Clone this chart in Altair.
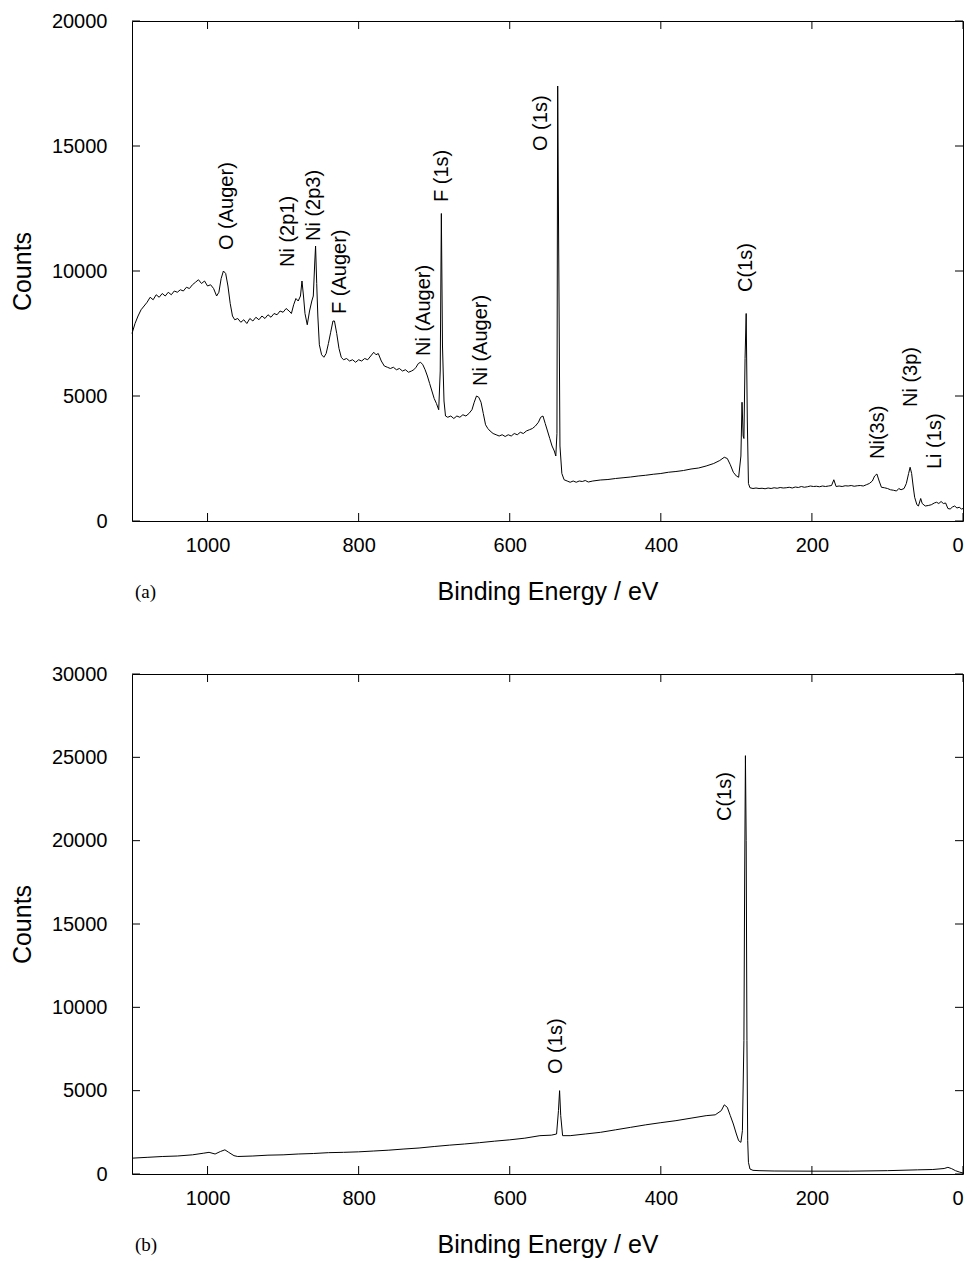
import altair as alt
import pandas as pd

# ---------------- Panel (a) spectrum ----------------
energy_a = [1100, 1096, 1092, 1088, 1084, 1080, 1076, 1072, 1068, 1064, 1060, 1056, 1052, 1048, 1044,
            1040, 1036, 1032, 1028, 1024, 1020, 1016, 1012, 1008, 1004, 1000, 996, 992, 988, 985,
            982, 979, 976, 973, 970, 967, 964, 960, 956, 952, 948, 944, 940, 936, 932, 928, 924,
            920, 916, 912, 908, 904, 900, 896, 892, 889, 886, 883, 880, 877, 875, 873, 871, 868,
            865, 862, 860, 858, 857, 855.5, 854, 852, 849, 846, 843, 840, 837, 834, 832, 829, 826,
            823, 820, 816, 812, 808, 804, 800, 796, 792, 788, 784, 780, 777, 774, 770, 766, 762,
            758, 754, 750, 746, 742, 738, 734, 730, 727, 724, 721, 718, 715, 712, 709, 706, 703,
            700, 697, 694, 692, 690.5, 689, 687, 685, 682, 678, 674, 670, 666, 662, 658, 654, 650,
            647, 644, 641, 638, 635, 632, 629, 626, 622, 618, 614, 610, 606, 602, 598, 594, 590,
            586, 582, 578, 574, 570, 566, 562, 559, 556, 553, 550, 547, 544, 541, 539, 537.5,
            536.5, 535, 533.5, 531, 528, 524, 520, 516, 512, 508, 504, 500, 496, 490, 480, 470,
            460, 450, 440, 430, 420, 410, 400, 390, 380, 370, 360, 350, 340, 330, 322, 316, 312,
            308, 304, 300, 297, 294, 292.5, 291, 290, 288.5, 287, 285.5, 284, 282, 278, 274, 270,
            266, 262, 258, 254, 250, 246, 242, 238, 234, 230, 226, 222, 218, 214, 210, 206, 202,
            198, 194, 190, 186, 182, 178, 174, 171, 168, 164, 160, 156, 152, 148, 144, 140, 136,
            132, 128, 124, 120, 117, 114, 111, 108, 104, 100, 96, 92, 88, 85, 82, 78, 75, 72, 70,
            68, 66, 64, 61, 59, 56, 54, 50, 46, 42, 38, 35, 32, 29, 26, 23, 20, 17, 14, 11, 8, 5,
            2, 0]
counts_a = [7500, 7900, 8200, 8450, 8600, 8750, 8950, 8850, 9050, 8950, 9100, 9000, 9150, 9050, 9200,
            9150, 9250, 9200, 9350, 9300, 9450, 9550, 9650, 9500, 9600, 9400, 9450, 9300, 9000, 9150,
            9700, 10000, 9900, 9400, 8700, 8200, 8050, 8100, 7950, 8050, 7900, 8100, 8000, 8150, 8050,
            8200, 8100, 8250, 8150, 8300, 8250, 8400, 8350, 8500, 8400, 8300, 8650, 8900, 8800, 9000,
            9600, 9000, 8300, 7850, 8400, 8800, 9000, 10400, 11000, 9500, 8200, 7050, 6650, 6550, 6700,
            7100, 7550, 8000, 8000, 7500, 6900, 6550, 6450, 6500, 6400, 6450, 6350, 6450, 6400, 6500,
            6450, 6600, 6750, 6650, 6700, 6400, 6200, 6150, 6100, 6150, 6050, 6100, 6000, 6050, 5950,
            6000, 6050, 6150, 6300, 6350, 6250, 6050, 5800, 5500, 5200, 4900, 4700, 4450, 6000, 12300,
            7000, 4800, 4200, 4150, 4200, 4100, 4200, 4150, 4250, 4200, 4300, 4450, 4750, 5000, 4950,
            4750, 4300, 3850, 3700, 3600, 3500, 3450, 3400, 3450, 3380, 3450, 3400, 3500, 3450, 3550,
            3500, 3600, 3650, 3700, 3800, 3950, 4150, 4200, 3900, 3600, 3300, 3000, 2800, 2600, 3500,
            17400, 10000, 3000, 1900, 1650, 1600, 1550, 1600, 1550, 1600, 1580, 1620, 1560, 1600, 1640,
            1660, 1700, 1730, 1760, 1800, 1830, 1870, 1900, 1950, 1980, 2020, 2080, 2120, 2200, 2300,
            2420, 2550, 2500, 2250, 1950, 1800, 1750, 2600, 4750, 3400, 3300, 6500, 8300, 4000, 1500,
            1330, 1300, 1320, 1300, 1310, 1290, 1320, 1300, 1330, 1310, 1340, 1320, 1330, 1350, 1320,
            1360, 1340, 1380, 1350, 1370, 1400, 1380, 1390, 1370, 1400, 1380, 1400, 1420, 1650, 1380,
            1400, 1380, 1410, 1400, 1420, 1390, 1410, 1420, 1400, 1450, 1500, 1600, 1800, 1880, 1600,
            1350, 1330, 1300, 1250, 1230, 1200, 1300, 1250, 1300, 1500, 1900, 2150, 1900, 1400, 950,
            650, 600, 900, 700, 600, 620, 650, 720, 750, 700, 780, 700, 720, 500, 480, 560, 600, 520,
            550, 480, 500]

# ---------------- Panel (b) spectrum ----------------
energy_b = [1100, 1080, 1060, 1040, 1020, 1005, 998, 990, 983, 977, 972, 965, 960, 940, 920, 900,
            880, 860, 840, 820, 800, 780, 760, 740, 720, 700, 680, 660, 640, 620, 600, 580, 560,
            545, 538, 535.5, 534, 532.5, 530, 520, 500, 480, 460, 440, 420, 400, 380, 360, 340,
            328, 320, 316, 312, 308, 304, 300, 297, 294, 292, 290, 289, 288, 287, 286, 285, 284,
            282, 278, 270, 250, 200, 150, 100, 60, 40, 25, 20, 15, 10, 5, 0]
counts_b = [950, 1000, 1050, 1080, 1150, 1250, 1300, 1200, 1350, 1450, 1300, 1100, 1050, 1080, 1130,
            1150, 1200, 1230, 1280, 1300, 1330, 1380, 1430, 1500, 1560, 1650, 1730, 1800, 1880, 1970,
            2050, 2150, 2300, 2330, 2400, 3800, 5000, 3500, 2300, 2300, 2400, 2500, 2650, 2800, 2950,
            3080, 3200, 3350, 3500, 3550, 3800, 4150, 4000, 3500, 3000, 2400, 2000, 1900, 2600, 8000,
            18000, 25100, 20000, 8000, 2000, 700, 300, 220, 200, 180, 170, 170, 200, 250, 270, 330,
            400, 320, 200, 120, 60]

# ---------------- Peak labels ----------------
labels_a = ["O (Auger)", "Ni (2p1)", "Ni (2p3)", "F (Auger)", "Ni (Auger)", "F (1s)", "Ni (Auger)",
            "O (1s)", "C(1s)", "Ni(3s)", "Ni (3p)", "Li (1s)"]
label_e_a = [974, 893.5, 859, 824.7, 713.5, 689.7, 638, 558.6, 287.3, 112.6, 68.9, 36.5]
label_c_a = [10840, 10160, 11200, 8280, 6600, 12760, 5400, 14800, 9160, 2480, 4560, 2080]

labels_b = ["O (1s)", "C(1s)"]
label_e_b = [538.8, 315]
label_c_b = [6000, 21180]

x_ticks = [1000, 800, 600, 400, 200, 0]
y_ticks_a = [0, 5000, 10000, 15000, 20000]
y_ticks_b = [0, 5000, 10000, 15000, 20000, 25000, 30000]

W, H = 831, 500
FONT = "Liberation Sans"
TICK = 8
VBAR = "M0,-1L0,1"   # symbol path for a vertical tick
HBAR = "M-1,0L1,0"   # symbol path for a horizontal tick


def panel(energy, counts, labels, le, lc, yticks, ymax, tag):
    spec = pd.DataFrame({"E": energy, "C": counts})
    lab = pd.DataFrame({"E": le, "C": lc, "t": labels})
    xt = pd.DataFrame({"tx": x_ticks})
    yt = pd.DataFrame({"ty": yticks})
    tagdf = pd.DataFrame({"t": [tag]})

    xs = alt.Scale(domain=[0, 1100], reverse=True, nice=False, zero=False)
    ys = alt.Scale(domain=[0, ymax], nice=False, zero=True)

    line = alt.Chart(spec).mark_line(color="black", strokeWidth=1).encode(
        x=alt.X("E:Q", scale=xs, title="Binding Energy / eV",
                axis=alt.Axis(values=x_ticks, format="d", ticks=False, domain=False, grid=False,
                              labelFontSize=20, labelPadding=14, titleFontSize=25,
                              titlePadding=24, titleFontWeight="normal",
                              labelFont=FONT, titleFont=FONT,
                              labelColor="black", titleColor="black")),
        y=alt.Y("C:Q", scale=ys, title="Counts",
                axis=alt.Axis(values=yticks, format="d", ticks=False, domain=False, grid=False,
                              labelFontSize=20, labelPadding=25, titleFontSize=25,
                              titlePadding=16, titleFontWeight="normal",
                              labelFont=FONT, titleFont=FONT,
                              labelColor="black", titleColor="black")),
    )
    text = alt.Chart(lab).mark_text(angle=270, align="left", baseline="middle", fontSize=20,
                                    font=FONT, color="black").encode(
        x=alt.X("E:Q", scale=xs, axis=None),
        y=alt.Y("C:Q", scale=ys, axis=None),
        text="t:N",
    )
    # inward tick marks on all four sides, drawn as symbol paths
    def vt(ypix):
        return alt.Chart(xt).mark_point(shape=VBAR, size=TICK * TICK, filled=False,
                                        stroke="black", strokeWidth=1, opacity=1).encode(
            x=alt.X("tx:Q", scale=xs, axis=None), y=alt.value(ypix))

    def ht(xpix):
        return alt.Chart(yt).mark_point(shape=HBAR, size=TICK * TICK, filled=False,
                                        stroke="black", strokeWidth=1, opacity=1).encode(
            y=alt.Y("ty:Q", scale=ys, axis=None), x=alt.value(xpix))

    tb, tt = vt(H - TICK / 2), vt(TICK / 2)
    tl, tr = ht(TICK / 2), ht(W - TICK / 2)
    tag_mark = alt.Chart(tagdf).mark_text(align="left", baseline="middle", fontSize=19,
                                          font="Liberation Serif", color="black").encode(
        x=alt.value(3), y=alt.value(H + 71), text="t:N")
    return alt.layer(line, text, tb, tt, tl, tr, tag_mark).resolve_axis(
        x="independent", y="independent").properties(width=W, height=H)


pa = panel(energy_a, counts_a, labels_a, label_e_a, label_c_a, y_ticks_a, 20000, "(a)")
pb = panel(energy_b, counts_b, labels_b, label_e_b, label_c_b, y_ticks_b, 30000, "(b)")

chart = alt.vconcat(pa, pb, spacing=153, bounds="flush").properties(
    padding={"left": 9, "top": 10, "right": 5, "bottom": 5},
    background="white",
).configure_view(
    stroke="black", strokeWidth=1
)

chart.save("out.html", embed_options={"renderer": "svg", "actions": False})
